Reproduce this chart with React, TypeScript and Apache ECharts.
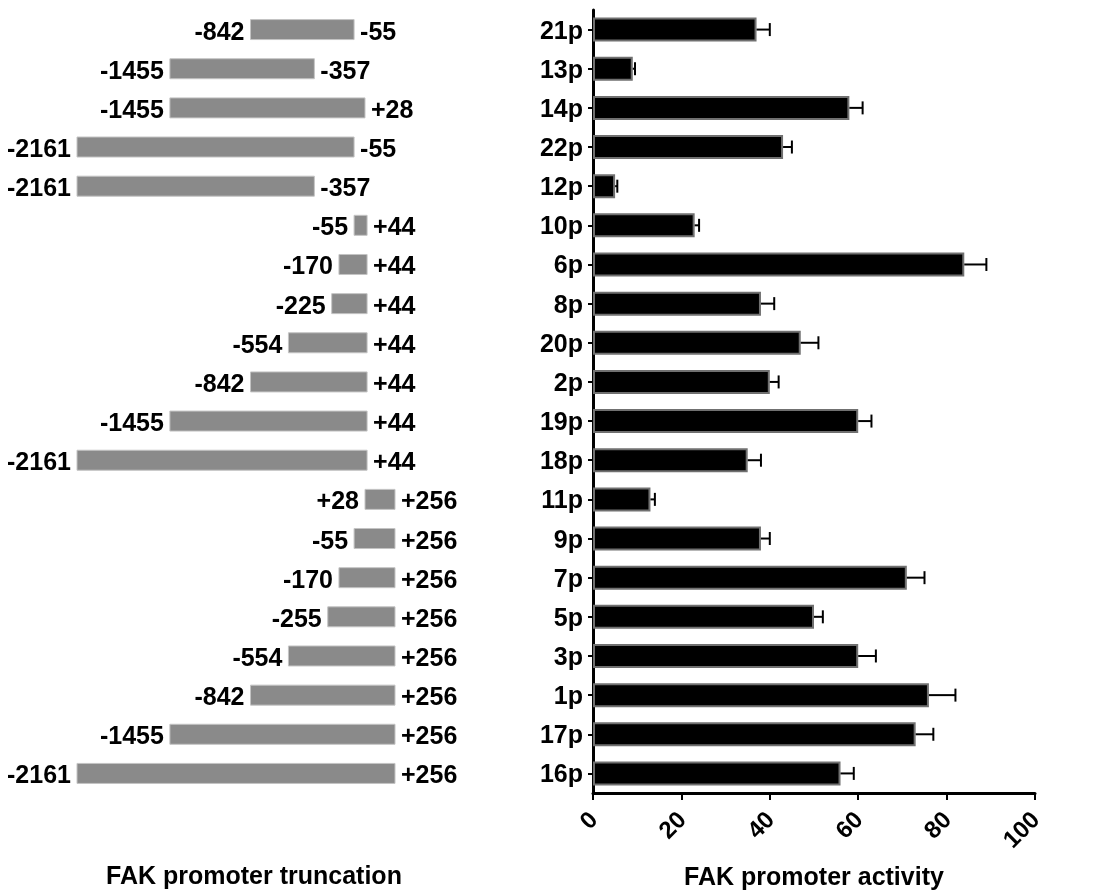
import React, { useEffect, useRef } from 'react';
import * as echarts from 'echarts';

const constructs = ['21p', '13p', '14p', '22p', '12p', '10p', '6p', '8p', '20p', '2p', '19p', '18p', '11p', '9p', '7p', '5p', '3p', '1p', '17p', '16p'];
const truncStart = [-842, -1455, -1455, -2161, -2161, -55, -170, -225, -554, -842, -1455, -2161, 28, -55, -170, -255, -554, -842, -1455, -2161];
const truncEnd = [-55, -357, 28, -55, -357, 44, 44, 44, 44, 44, 44, 44, 256, 256, 256, 256, 256, 256, 256, 256];
const activity = [37, 9, 58, 43, 5, 23, 84, 38, 47, 40, 60, 35, 13, 38, 71, 50, 60, 76, 73, 56];
const activityErr = [3, 0.5, 3, 2, 0.5, 1, 5, 3, 4, 2, 3, 3, 1, 2, 4, 2, 4, 6, 4, 3];

const FONT = '"Liberation Sans", Arial, Helvetica, sans-serif';
const fmtPos = (v: number) => (v > 0 ? '+' + v : String(v));

export default function App() {
  const ref = useRef<HTMLDivElement>(null);
  useEffect(() => {
    const chart = echarts.init(ref.current!, null, { renderer: 'svg' });
    const truncData = constructs.map((_, i) => [truncStart[i], truncEnd[i], i]);
    const errData = constructs.map((_, i) => [activity[i], activityErr[i], i]);
    const labelFont = `bold 25px ${FONT}`;
    chart.setOption({
      animation: false,
      grid: [
        { left: 77, top: 10, width: 318, height: 783 },
        { left: 593, top: 10, width: 442, height: 783 },
      ],
      xAxis: [
        { gridIndex: 0, type: 'value', min: -2161, max: 256, show: false },
        {
          gridIndex: 1,
          type: 'value',
          min: 0,
          max: 100,
          interval: 20,
          axisLine: { show: true, lineStyle: { color: '#000', width: 3 } },
          axisTick: { show: true, length: 7, lineStyle: { color: '#000', width: 2 } },
          axisLabel: { rotate: 45, fontSize: 24, fontWeight: 'bold', color: '#000', fontFamily: FONT, margin: 22 },
          splitLine: { show: false },
          name: 'FAK promoter activity',
          nameLocation: 'middle',
          nameGap: 70,
          nameTextStyle: { fontSize: 25, fontWeight: 'bold', color: '#000', fontFamily: FONT, verticalAlign: 'top' },
        },
      ],
      yAxis: [
        { gridIndex: 0, type: 'category', data: constructs, inverse: true, show: false },
        {
          gridIndex: 1,
          type: 'category',
          data: constructs,
          inverse: true,
          axisLine: { show: true, lineStyle: { color: '#000', width: 3 } },
          axisTick: { show: true, alignWithLabel: true, length: 5, lineStyle: { color: '#000', width: 2 } },
          axisLabel: { fontSize: 25, fontWeight: 'bold', color: '#000', fontFamily: FONT, margin: 10 },
          splitLine: { show: false },
        },
      ],
      graphic: [
        {
          type: 'text',
          x: 254,
          y: 875,
          style: {
            text: 'FAK promoter truncation',
            font: labelFont,
            fill: '#000',
            align: 'center',
            verticalAlign: 'middle',
            textAlign: 'center',
            textVerticalAlign: 'middle',
          },
        },
      ],
      series: [
        {
          type: 'custom',
          xAxisIndex: 0,
          yAxisIndex: 0,
          data: truncData,
          encode: { x: [0, 1], y: 2 },
          renderItem: (params: any, api: any) => {
            const s = api.value(0);
            const e = api.value(1);
            const idx = api.value(2);
            const p0 = api.coord([s, idx]);
            const p1 = api.coord([e, idx]);
            const h = 20;
            return {
              type: 'group',
              children: [
                {
                  type: 'rect',
                  shape: { x: p0[0], y: p0[1] - h / 2, width: p1[0] - p0[0], height: h },
                  style: { fill: '#8a8a8a', stroke: '#c4c4c4', lineWidth: 1 },
                },
                {
                  type: 'text',
                  x: p0[0] - 6,
                  y: p0[1] + 1,
                  style: { text: fmtPos(s), font: labelFont, fill: '#000', align: 'right', verticalAlign: 'middle' },
                },
                {
                  type: 'text',
                  x: p1[0] + 6,
                  y: p1[1] + 1,
                  style: { text: fmtPos(e), font: labelFont, fill: '#000', align: 'left', verticalAlign: 'middle' },
                },
              ],
            };
          },
        },
        {
          type: 'bar',
          xAxisIndex: 1,
          yAxisIndex: 1,
          data: activity,
          barWidth: 24,
          itemStyle: { color: '#000', borderColor: '#707070', borderWidth: 2 },
        },
        {
          type: 'custom',
          xAxisIndex: 1,
          yAxisIndex: 1,
          data: errData,
          encode: { x: 0, y: 2 },
          z: 5,
          renderItem: (params: any, api: any) => {
            const v = api.value(0);
            const err = api.value(1);
            const idx = api.value(2);
            const a = api.coord([v, idx]);
            const b = api.coord([v + err, idx]);
            const cap = 6.5;
            return {
              type: 'group',
              children: [
                { type: 'line', shape: { x1: a[0], y1: a[1], x2: b[0], y2: b[1] }, style: { stroke: '#000', lineWidth: 2 } },
                { type: 'line', shape: { x1: b[0], y1: a[1] - cap, x2: b[0], y2: a[1] + cap }, style: { stroke: '#000', lineWidth: 2 } },
              ],
            };
          },
        },
      ],
    });
    return () => chart.dispose();
  }, []);
  return <div ref={ref} style={{ position: 'fixed', left: 0, top: 0, width: 1096, height: 895 }} />;
}
